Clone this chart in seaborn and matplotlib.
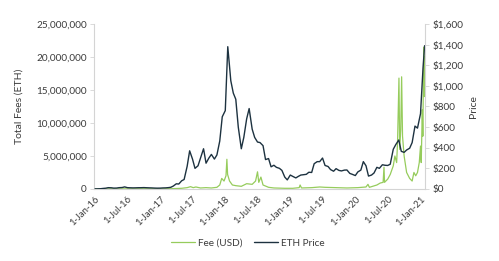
import matplotlib
matplotlib.use("Agg")
import matplotlib.pyplot as plt
import matplotlib.ticker as mticker
import seaborn as sns
import pandas as pd

# ---------------- data ----------------
# ETH price (USD), semi-monthly (1st and 15th) from Jan 2016 to Jan 2021, plus last point
price_start = "2016-01-01"
price_end = "2021-01-15"
price_last_date = "2021-01-24"
price_values = [
    # 2016
    0.95, 1.2, 2.3, 5.2, 7.5, 12.5, 11.5, 8.2, 8.8, 12.5, 14, 20,
    12.5, 11.5, 10.5, 11, 12, 12.2, 13.2, 12, 10.8, 10, 8.5, 7.8,
    # 2017
    8.2, 9.8, 10.7, 12.8, 16, 28, 50, 48, 79, 92, 220, 370,
    290, 200, 225, 300, 390, 250, 300, 335, 290, 330, 465, 700,
    # 2018
    760, 1380, 1050, 930, 870, 600, 390, 500, 680, 780, 580, 500,
    455, 450, 420, 285, 295, 215, 230, 210, 200, 180, 115, 88,
    # 2019
    135, 122, 107, 122, 135, 138, 142, 162, 160, 245, 265, 265,
    300, 228, 218, 188, 172, 197, 180, 175, 183, 184, 151, 142,
    # 2020
    130, 165, 183, 265, 225, 125, 135, 155, 210, 200, 235, 230,
    228, 240, 385, 430, 475, 365, 355, 378, 395, 450, 610, 590,
    # 2021
    730, 1170,
]
price_last_value = 1390

fee_dates = [
    "2016-01-01", "2016-04-01", "2016-07-01", "2016-10-01",
    "2017-01-01", "2017-03-01", "2017-05-01", "2017-06-01", "2017-06-20",
    "2017-07-05", "2017-07-20", "2017-08-15", "2017-09-15", "2017-10-15",
    "2017-11-15", "2017-12-01", "2017-12-12", "2017-12-25",
    "2018-01-05", "2018-01-10", "2018-01-14", "2018-01-25", "2018-02-10",
    "2018-03-01", "2018-04-01", "2018-05-01", "2018-06-01", "2018-06-20",
    "2018-07-01", "2018-07-08", "2018-07-20", "2018-08-01", "2018-09-01",
    "2018-10-01", "2018-12-01",
    "2019-01-15", "2019-02-20", "2019-02-25", "2019-03-05", "2019-05-01",
    "2019-06-15", "2019-07-15", "2019-09-15", "2019-11-15",
    "2020-01-15", "2020-03-01", "2020-03-12", "2020-03-20", "2020-05-01",
    "2020-05-20", "2020-06-05", "2020-06-10", "2020-06-13", "2020-07-01",
    "2020-07-15", "2020-08-01", "2020-08-10", "2020-08-20", "2020-08-25",
    "2020-09-02", "2020-09-06", "2020-09-12", "2020-09-17", "2020-09-22",
    "2020-10-01", "2020-10-15", "2020-11-01", "2020-11-15", "2020-11-25",
    "2020-12-05", "2020-12-15", "2020-12-25",
    "2021-01-01", "2021-01-05", "2021-01-11", "2021-01-14", "2021-01-19",
    "2021-01-22", "2021-01-25",
]
fee_values = [
    4e3, 1.5e4, 2e4, 3e4,
    2e4, 4e4, 1e5, 2e5, 3.5e5,
    2e5, 3e5, 1.5e5, 2e5, 1.5e5,
    2.5e5, 6e5, 1.6e6, 1.2e6,
    2.0e6, 4.5e6, 2.2e6, 1.2e6, 6e5,
    5e5, 4e5, 8e5, 7e5, 1.2e6,
    2.6e6, 1.0e6, 1.8e6, 6e5, 2.5e5,
    1.5e5, 1e5,
    1e5, 2e5, 6e5, 1.5e5, 2e5,
    3e5, 2.5e5, 2e5, 1.5e5,
    2e5, 3e5, 7e5, 2.5e5, 6e5,
    9e5, 1.0e6, 3.3e6, 1.0e6, 1.5e6,
    2.2e6, 3.5e6, 5e6, 4e6, 7e6,
    16.8e6, 6e6, 9e6, 17e6, 8e6,
    5e6, 2.5e6, 1.6e6, 1.2e6, 2.5e6,
    2e6, 2.5e6, 4e6,
    6.5e6, 4e6, 12e6, 8e6, 21.5e6,
    14e6, 20e6,
]

tick_labels = ["1-Jan-16", "1-Jul-16", "1-Jan-17", "1-Jul-17", "1-Jan-18",
               "1-Jul-18", "1-Jan-19", "1-Jul-19", "1-Jan-20", "1-Jul-20",
               "1-Jan-21"]
tick_dates = ["2016-01-01", "2016-07-01", "2017-01-01", "2017-07-01", "2018-01-01",
              "2018-07-01", "2019-01-01", "2019-07-01", "2020-01-01", "2020-07-01",
              "2021-01-01"]

# ---------------- build frames ----------------
p_dates = list(pd.date_range(price_start, price_end, freq="SMS")) + [pd.Timestamp(price_last_date)]
price_df = pd.DataFrame({"date": p_dates, "price": price_values + [price_last_value]})
fee_df = pd.DataFrame({"date": pd.to_datetime(fee_dates), "fee": fee_values})

# ---------------- plot ----------------
sns.set_theme(style="white")
plt.rcParams["font.family"] = ["Lato", "DejaVu Sans"]
text_color = "#3c3c3c"
green = "#96cc5c"
dark = "#1d3240"
spine_color = "#d4d4d4"

fig = plt.figure(figsize=(4.99, 2.61), dpi=100)
ax = fig.add_axes([0.188, 0.276, 0.664, 0.632])
ax2 = ax.twinx()

sns.lineplot(data=fee_df, x="date", y="fee", ax=ax, color=green, linewidth=0.9,
             label="Fee (USD)", legend=False)
sns.lineplot(data=price_df, x="date", y="price", ax=ax2, color=dark, linewidth=1.0,
             label="ETH Price", legend=False)

ax.set_xlim(pd.Timestamp("2015-12-25"), pd.Timestamp("2021-01-27"))
ax.set_ylim(0, 25_000_000)
ax2.set_ylim(0, 1600)
ax.yaxis.set_major_locator(mticker.MultipleLocator(5_000_000))
ax2.yaxis.set_major_locator(mticker.MultipleLocator(200))
ax.yaxis.set_major_formatter(mticker.FuncFormatter(lambda v, p: f"{int(v):,}"))
ax2.yaxis.set_major_formatter(mticker.FuncFormatter(lambda v, p: f"${int(v):,}"))

ax.set_xticks(pd.to_datetime(tick_dates))
ax.set_xticklabels(tick_labels, rotation=45, ha="right", rotation_mode="anchor")

ax.set_xlabel("")
ax.set_ylabel("Total Fees (ETH)", fontsize=7.5, color=text_color, labelpad=9)
ax2.set_ylabel("Price", fontsize=7.5, color=text_color, labelpad=4)

for a in (ax, ax2):
    a.tick_params(axis="both", labelsize=7.2, colors=text_color, length=3,
                  width=0.6, pad=2)
    a.tick_params(axis="both", color=spine_color)
    for s in a.spines.values():
        s.set_color(spine_color)
        s.set_linewidth(0.8)
    a.spines["top"].set_visible(False)
ax.spines["right"].set_visible(False)
ax2.spines["left"].set_visible(False)
ax2.spines["bottom"].set_visible(False)
ax.tick_params(axis="x", labelsize=6.8, pad=1)

h1, l1 = ax.get_legend_handles_labels()
h2, l2 = ax2.get_legend_handles_labels()
fig.legend(h1 + h2, l1 + l2, loc="center", bbox_to_anchor=(0.497, 0.068),
           ncol=2, frameon=False, fontsize=7.2, handlelength=2.4,
           handletextpad=0.3, columnspacing=1.2, labelcolor=text_color)

fig.savefig("out.png", dpi=100)
